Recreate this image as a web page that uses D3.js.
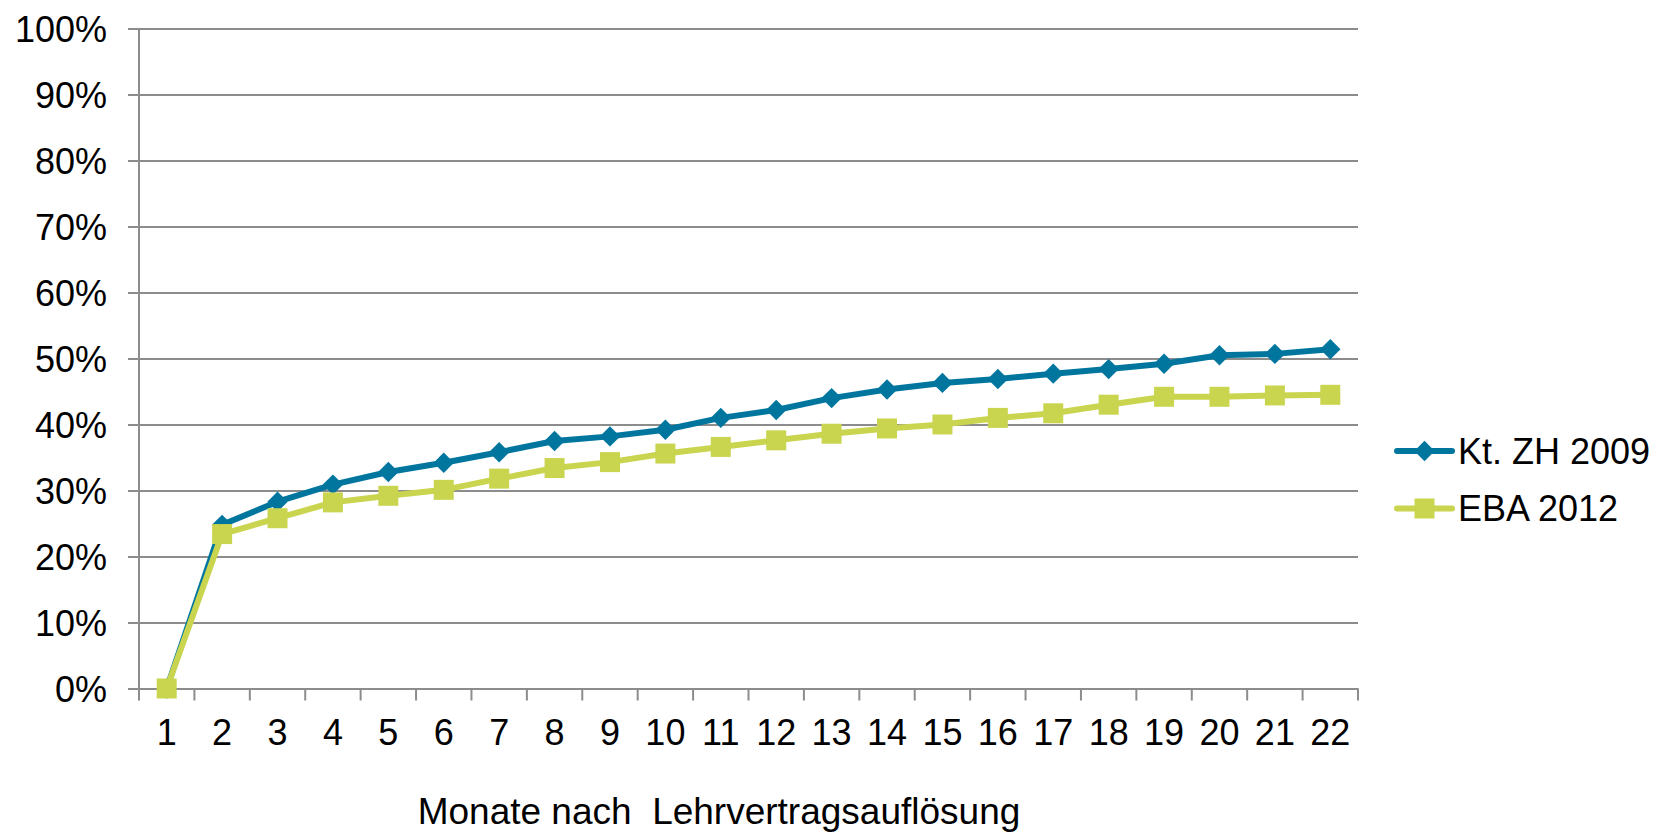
<!DOCTYPE html>
<html lang="de">
<head>
<meta charset="utf-8">
<title>Monate nach Lehrvertragsauflösung</title>
<script src="https://cdn.jsdelivr.net/npm/d3@7"></script>
<style>
  html, body { margin: 0; padding: 0; background: #fff; }
  svg { display: block; font-family: 'Liberation Sans', Arial, sans-serif; }
</style>
</head>
<body>
<svg class="chart" width="1658" height="832"></svg>
<script>
// Monate (Kategorien der x-Achse)
const months = ['1', '2', '3', '4', '5', '6', '7', '8', '9', '10', '11', '12', '13', '14', '15', '16', '17', '18', '19', '20', '21', '22'];
// Anteil in %, Kt. ZH 2009
const ktZh2009 = [0, 24.8, 28.3, 30.9, 32.8, 34.2, 35.8, 37.5, 38.2, 39.2, 41.0, 42.2, 44.0, 45.3, 46.3, 46.9, 47.7, 48.4, 49.2, 50.5, 50.7, 51.4];
// Anteil in %, EBA 2012
const eba2012 = [0, 23.4, 25.8, 28.2, 29.2, 30.1, 31.8, 33.4, 34.3, 35.6, 36.6, 37.6, 38.6, 39.4, 40.0, 41.0, 41.7, 43.0, 44.2, 44.2, 44.4, 44.5];
const yTicks = [0, 10, 20, 30, 40, 50, 60, 70, 80, 90, 100];
const seriesNames = ['Kt. ZH 2009', 'EBA 2012'];
const xTitle = 'Monate nach\u00a0 Lehrvertragsauflösung';

const blue = '#00769f';
const green = '#c9d44f';
const gridColor = '#8c8c8c';

const svg = d3.select('svg.chart');

// Plotbereich
const plotLeft = 139;
const plotRight = 1358;
const plotTop = 28.5;
const plotBottom = 688.5;

const x = d3.scaleBand()
  .domain(months)
  .range([plotLeft, plotRight]);

const y = d3.scaleLinear()
  .domain([0, 100])
  .range([plotBottom, plotTop]);

// Gitterlinien + Ticks links
svg.append('g')
  .attr('transform', `translate(${plotLeft},0)`)
  .call(d3.axisLeft(y)
    .tickValues(yTicks)
    .tickSize(-(plotRight - plotLeft))
    .tickSizeOuter(0)
    .tickFormat(d => d + '%'))
  .call(g => g.select('.domain').remove())
  .call(g => g.selectAll('.tick line')
    .attr('x1', -11)
    .attr('stroke', gridColor)
    .attr('stroke-width', 2))
  .call(g => g.selectAll('.tick text')
    .attr('x', -32)
    .attr('dy', '0.35em')
    .attr('font-size', 36)
    .attr('font-family', "'Liberation Sans', Arial, sans-serif")
    .attr('fill', '#000'));

// y-Achse
svg.append('line')
  .attr('x1', plotLeft).attr('x2', plotLeft)
  .attr('y1', plotTop).attr('y2', plotBottom)
  .attr('stroke', gridColor)
  .attr('stroke-width', 2);

// x-Achse, Ticks zwischen den Kategorien
const xAxis = svg.append('g')
  .attr('transform', `translate(0,${plotBottom})`)
  .call(d3.axisBottom(x).tickSize(0).tickPadding(31))
  .call(g => g.select('.domain')
    .attr('stroke', gridColor)
    .attr('stroke-width', 2))
  .call(g => g.selectAll('.tick text')
    .attr('font-size', 36)
    .attr('font-family', "'Liberation Sans', Arial, sans-serif")
    .attr('fill', '#000'));

const boundaries = months.map(m => x(m)).concat([plotRight]);
xAxis.selectAll('line.sep')
  .data(boundaries)
  .join('line')
  .attr('class', 'sep')
  .attr('x1', d => d).attr('x2', d => d)
  .attr('y1', 0).attr('y2', 12)
  .attr('stroke', gridColor)
  .attr('stroke-width', 2);

// Achsentitel
svg.append('text')
  .attr('x', 719)
  .attr('y', 824)
  .attr('text-anchor', 'middle')
  .attr('font-size', 37)
  .text(xTitle);

const cx = (d, i) => x(months[i]) + x.bandwidth() / 2;

const line = d3.line()
  .x(cx)
  .y(d => y(d));

const diamond = d3.symbol().type(d3.symbolDiamond2).size(2 * 11.5 * 11.5);
const square = d3.symbol().type(d3.symbolSquare).size(20 * 20);

const series = [
  { name: seriesNames[0], values: ktZh2009, color: blue, symbol: diamond },
  { name: seriesNames[1], values: eba2012, color: green, symbol: square }
];

series.forEach((s) => {
  svg.append('path')
    .datum(s.values)
    .attr('fill', 'none')
    .attr('stroke', s.color)
    .attr('stroke-width', 6)
    .attr('stroke-linejoin', 'round')
    .attr('d', line);

  svg.append('g')
    .selectAll('path')
    .data(s.values)
    .join('path')
    .attr('transform', (d, i) => `translate(${cx(d, i)},${y(d)})`)
    .attr('d', s.symbol)
    .attr('fill', s.color);
});

// Legende
const legend = svg.append('g')
  .attr('transform', 'translate(1397,0)');

const legendY = [451, 508.5];

series.forEach((s, i) => {
  const row = legend.append('g')
    .attr('transform', `translate(0,${legendY[i]})`);

  row.append('line')
    .attr('x1', 0).attr('x2', 55)
    .attr('stroke', s.color)
    .attr('stroke-width', 6)
    .attr('stroke-linecap', 'round');

  row.append('path')
    .attr('transform', 'translate(27.5,0)')
    .attr('d', s.symbol)
    .attr('fill', s.color);

  row.append('text')
    .attr('x', 61)
    .attr('y', 12.5)
    .attr('font-size', 36)
    .text(s.name);
});
</script>
</body>
</html>
